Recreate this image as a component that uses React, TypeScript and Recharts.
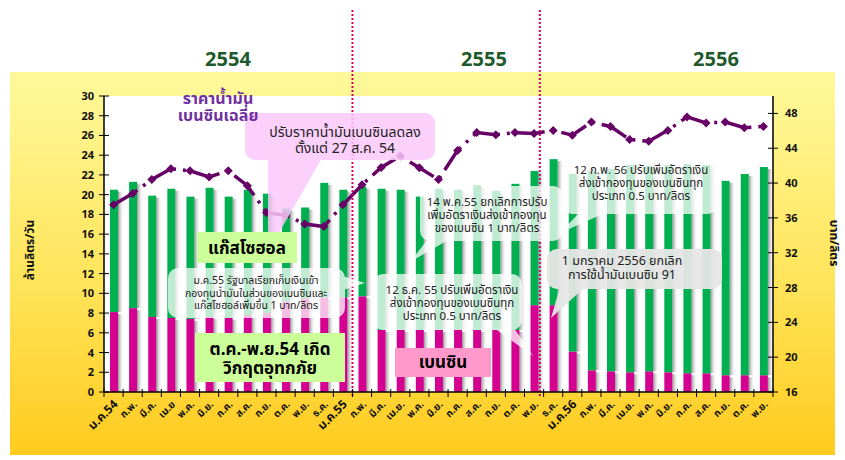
import React from "react";
import {
  ComposedChart,
  Bar,
  Line,
  XAxis,
  YAxis,
  ReferenceLine,
} from "recharts";

const months = [
  "ม.ค.54", "ก.พ.", "มี.ค.", "เม.ย", "พ.ค.", "มิ.ย.", "ก.ค.", "ส.ค.", "ก.ย.", "ต.ค.", "พ.ย.", "ธ.ค.",
  "ม.ค.55", "ก.พ.", "มี.ค.", "เม.ย.", "พ.ค.", "มิ.ย.", "ก.ค.", "ส.ค.", "ก.ย.", "ต.ค.", "พ.ย.", "ธ.ค.",
  "ม.ค.56", "ก.พ.", "มี.ค.", "เม.ย.", "พ.ค.", "มิ.ย.", "ก.ค.", "ส.ค.", "ก.ย.", "ต.ค.", "พ.ย.",
];

// ล้านลิตร/วัน
const benzin = [
  8.1, 8.5, 7.6, 7.5, 7.4, 7.6, 7.5, 7.8, 8.0, 9.2, 9.5, 9.6,
  9.6, 9.7, 6.3, 6.3, 6.3, 6.3, 6.3, 6.3, 6.3, 6.3, 8.8, 8.8,
  4.1, 2.2, 2.1, 2.0, 2.1, 2.0, 1.9, 1.9, 1.7, 1.7, 1.7,
];
const gasohol = [
  12.4, 12.8, 12.3, 13.1, 12.4, 13.1, 12.3, 12.7, 12.1, 9.4, 9.2, 11.6,
  10.9, 11.1, 14.3, 14.2, 13.5, 14.3, 14.2, 14.6, 14.1, 14.8, 13.6, 14.8,
  18.0, 20.2, 20.5, 21.0, 20.8, 21.0, 21.2, 21.1, 19.7, 20.4, 21.1,
];
// บาท/ลิตร
const benzinPrice = [
  37.5, 38.8, 40.4, 41.65, 41.4, 40.7, 41.4, 39.7, 36.6, 36.3, 35.3, 35.0,
  37.5, 39.8, 41.8, 43.1, 41.75, 40.4, 43.75, 45.8, 45.55, 45.8, 45.7, 46.05,
  45.5, 47.0, 46.5, 45.0, 44.8, 46.05, 47.6, 46.9, 47.0, 46.35, 46.5,
];

const leftTicks = [0, 2, 4, 6, 8, 10, 12, 14, 16, 18, 20, 22, 24, 26, 28, 30];
const rightTicks = [16, 20, 24, 28, 32, 36, 40, 44, 48];
const years = ["2554", "2555", "2556"];
// boundaries of the year sections, in month slots
const yearBreaks = [13, 22.8];

const data = months.map((month, i) => ({
  month,
  idx: i,
  benzin: benzin[i],
  gasohol: gasohol[i],
  price: benzinPrice[i],
}));

const FONT = "Tahoma, 'Noto Sans Thai', Loma, 'DejaVu Sans', sans-serif";
const MARGIN = { top: 96, right: 12, bottom: 0, left: 44 };
const AXIS_W = 60;
const X_AXIS_H = 68;
const CHART_W = 845;
const CHART_H = 460;
const PLOT_W = CHART_W - MARGIN.left - MARGIN.right - 2 * AXIS_W;
const PLOT_H = CHART_H - MARGIN.top - MARGIN.bottom - X_AXIS_H;
const SLOT = PLOT_W / months.length;

function ShadowBar(props: any) {
  const { x, y, width, height, fill } = props;
  if (!height || height <= 0) return null;
  return (
    <g>
      <rect x={x + width} y={y + 2} width={6} height={height - 2} fill="url(#barShadow)" />
      <rect x={x} y={y} width={width} height={height} fill={fill} />
    </g>
  );
}

function Diamond(props: any) {
  const { cx, cy, index } = props;
  if (cx == null || cy == null) return null;
  const r = 4.5;
  return (
    <path
      key={`d-${index}`}
      d={`M${cx},${cy - r}L${cx + r},${cy}L${cx},${cy + r}L${cx - r},${cy}Z`}
      fill="#660066"
    />
  );
}

function MonthTick(props: any) {
  const { x, y, payload } = props;
  const label: string = payload.value;
  const big = label.startsWith("ม.ค.");
  const ax = x + 5;
  const ay = y + 5;
  return (
    <g>
      <line x1={x - SLOT / 2} x2={x - SLOT / 2} y1={y - 11} y2={y - 3} stroke="#000" />
      {payload.index === months.length - 1 && (
        <line x1={x + SLOT / 2} x2={x + SLOT / 2} y1={y - 11} y2={y - 3} stroke="#000" />
      )}
      <text
        x={ax}
        y={ay}
        transform={`rotate(-45, ${ax}, ${ay})`}
        textAnchor="end"
        fontSize={big ? 12 : 10}
        fontWeight="bold"
        fontFamily={FONT}
        fill="#111"
      >
        {label}
      </text>
    </g>
  );
}

function LeftTick(props: any) {
  const { x, y, payload } = props;
  const axisX = x + 9;
  return (
    <g>
      <line x1={axisX - 5} x2={axisX + 5} y1={y} y2={y} stroke="#000" />
      <text x={x - 1} y={y + 4} textAnchor="end" fontSize={11} fontWeight="bold" fontFamily={FONT} fill="#111">
        {payload.value}
      </text>
    </g>
  );
}

function RightTick(props: any) {
  const { x, y, payload } = props;
  const axisX = x - 12;
  return (
    <g>
      <line x1={axisX - 5} x2={axisX + 5} y1={y} y2={y} stroke="#000" />
      <text x={x} y={y + 4} textAnchor="start" fontSize={11} fontWeight="bold" fontFamily={FONT} fill="#111">
        {payload.value}
      </text>
    </g>
  );
}

// dotted year divider, running from the top band down to the x axis
function YearDivider(props: any) {
  const { x1, x2, y1, y2 } = props;
  const bottom = Math.max(y1, y2);
  return (
    <line x1={x1} x2={x2} y1={10} y2={bottom + 4} stroke="#D4006A" strokeWidth={2} strokeDasharray="2 2" />
  );
}

type CalloutProps = {
  x: number;
  y: number;
  w: number;
  h: number;
  tail?: number[][];
  fill: string;
  opacity: number;
  rx?: number;
  lines: string[];
  cx: number;
  y0: number;
  lh: number;
  size: number;
  bold?: boolean;
  color?: string;
};

function Callout(p: CalloutProps) {
  return (
    <g>
      <g opacity={p.opacity}>
        <rect x={p.x} y={p.y} width={p.w} height={p.h} rx={p.rx ?? 0} fill={p.fill} />
        {p.tail && <polygon points={p.tail.map((q) => q.join(",")).join(" ")} fill={p.fill} />}
      </g>
      <text
        textAnchor="middle"
        fontFamily={FONT}
        fontSize={p.size}
        fontWeight={p.bold ? "bold" : "normal"}
        fill={p.color ?? "#222"}
      >
        {p.lines.map((l, i) => (
          <tspan key={i} x={p.cx} y={p.y0 + i * p.lh}>
            {l}
          </tspan>
        ))}
      </text>
    </g>
  );
}

export default function App() {
  return (
    <div style={{ position: "absolute", left: 0, top: 0, width: CHART_W, height: CHART_H, background: "#fff" }}>
      <div
        style={{
          position: "absolute",
          left: 10,
          top: 72,
          width: 825,
          height: 383,
          background: "linear-gradient(#FFF99C, #FFE45A 55%, #FFCB1E)",
        }}
      />
      {/* white plot area */}
      <div
        style={{
          position: "absolute",
          left: MARGIN.left + AXIS_W,
          top: MARGIN.top,
          width: PLOT_W,
          height: PLOT_H,
          background: "#fff",
        }}
      />
      <div style={{ position: "absolute", left: 0, top: 0 }}>
        <ComposedChart width={CHART_W} height={CHART_H} data={data} margin={MARGIN} barSize={8}>
          <defs>
            <linearGradient id="barShadow" x1="0" y1="0" x2="1" y2="0">
              <stop offset="0%" stopColor="#7f7f7f" stopOpacity={0.85} />
              <stop offset="100%" stopColor="#ffffff" stopOpacity={0} />
            </linearGradient>
          </defs>
          <XAxis
            dataKey="month"
            height={X_AXIS_H}
            interval={0}
            tick={<MonthTick />}
            tickLine={false}
            axisLine={{ stroke: "#000", strokeWidth: 1.5 }}
          />
          <XAxis xAxisId="pos" type="number" dataKey="idx" domain={[0, months.length]} hide />
          <YAxis
            yAxisId="left"
            domain={[0, 30]}
            ticks={leftTicks}
            interval={0}
            width={AXIS_W}
            tickSize={5}
            tickMargin={4}
            tickLine={false}
            tick={<LeftTick />}
            axisLine={{ stroke: "#000", strokeWidth: 1.5 }}
          />
          <YAxis
            yAxisId="right"
            orientation="right"
            domain={[16, 50]}
            ticks={rightTicks}
            interval={0}
            width={AXIS_W}
            tickSize={5}
            tickMargin={7}
            tickLine={false}
            tick={<RightTick />}
            axisLine={{ stroke: "#000", strokeWidth: 1.5 }}
          />
          <Bar yAxisId="left" dataKey="benzin" stackId="a" fill="#D4008F" shape={ShadowBar} isAnimationActive={false} />
          <Bar yAxisId="left" dataKey="gasohol" stackId="a" fill="#00B050" shape={ShadowBar} isAnimationActive={false} />
          <Line
            yAxisId="right"
            dataKey="price"
            stroke="#660066"
            strokeWidth={3.5}
            strokeDasharray="28 7 3 7"
            dot={Diamond}
            activeDot={false}
            isAnimationActive={false}
          />
          {yearBreaks.map((b) => (
            <ReferenceLine key={b} xAxisId="pos" yAxisId="left" x={b} shape={YearDivider} />
          ))}
        </ComposedChart>
      </div>
      <svg width={CHART_W} height={CHART_H} style={{ position: "absolute", left: 0, top: 0, pointerEvents: "none" }}>
        {years.map((yr, i) => (
          <text
            key={yr}
            x={[228, 484, 716][i]}
            y={66}
            textAnchor="middle"
            fontFamily={FONT}
            fontSize={20}
            fontWeight="bold"
            fill="#1E5A2C"
          >
            {yr}
          </text>
        ))}
        <text
          transform="translate(34, 250) rotate(-90)"
          textAnchor="middle"
          fontFamily={FONT}
          fontSize={12}
          fontWeight="bold"
          fill="#111"
        >
          ล้านลิตร/วัน
        </text>
        <text
          transform="translate(830, 243) rotate(90)"
          textAnchor="middle"
          fontFamily={FONT}
          fontSize={12}
          fontWeight="bold"
          fill="#111"
        >
          บาท/ลิตร
        </text>
        <Callout
          x={245} y={113} w={190} h={47} rx={10}
          tail={[[268, 158], [322, 158], [268, 252]]}
          fill="#FBC8FB" opacity={0.85}
          lines={["ปรับราคาน้ำมันเบนซินลดลง", "ตั้งแต่ 27 ส.ค. 54"]}
          cx={345} y0={137} lh={16} size={14}
        />
        <text textAnchor="middle" fontFamily={FONT} fontSize={16} fontWeight="bold" fill="#7030A0">
          <tspan x={218} y={104}>ราคาน้ำมัน</tspan>
          <tspan x={218} y={121}>เบนซินเฉลี่ย</tspan>
        </text>
        <Callout
          x={420} y={186} w={143} h={55} rx={10}
          tail={[[428, 239], [450, 239], [410, 262]]}
          fill="#ffffff" opacity={0.75}
          lines={["14 พ.ค.55 ยกเลิกการปรับ", "เพิ่มอัตราเงินส่งเข้ากองทุน", "ของเบนซิน 1 บาท/ลิตร"]}
          cx={487} y0={206} lh={13} size={11.5}
        />
        <Callout
          x={562} y={160} w={156} h={54} rx={10}
          tail={[[580, 212], [607, 212], [560, 233]]}
          fill="#ffffff" opacity={0.75}
          lines={["12 ก.พ. 56 ปรับเพิ่มอัตราเงิน", "ส่งเข้ากองทุนของเบนซินทุก", "ประเภท  0.5 บาท/ลิตร"]}
          cx={641} y0={174} lh={13} size={11.5}
        />
        <Callout
          x={373} y={274} w={149} h={56} rx={10}
          tail={[[494, 328], [514, 328], [533, 356]]}
          fill="#ffffff" opacity={0.75}
          lines={["12 ธ.ค. 55 ปรับเพิ่มอัตราเงิน", "ส่งเข้ากองทุนของเบนซินทุก", "ประเภท  0.5 บาท/ลิตร"]}
          cx={452} y0={294} lh={13} size={11.5}
        />
        <Callout
          x={547} y={249} w={175} h={40} rx={10}
          tail={[[560, 287], [585, 287], [551, 318]]}
          fill="#E6E6E6" opacity={0.95}
          lines={["1 มกราคม 2556 ยกเลิก", "การใช้น้ำมันเบนซิน 91"]}
          cx={622} y0={265} lh={14} size={12.5}
        />
        <Callout
          x={168} y={268} w={177} h={50} rx={10}
          tail={[[343, 276], [343, 290], [365, 283]]}
          fill="#ffffff" opacity={0.75}
          lines={["ม.ค.55 รัฐบาลเรียกเก็บเงินเข้า", "กองทุนน้ำมันในส่วนของเบนซินและ", "แก๊สโซฮอล์เพิ่มขึ้น 1 บาท/ลิตร"]}
          cx={256} y0={284} lh={12.5} size={10.5}
        />
        <Callout
          x={197} y={232} w={100} h={31}
          fill="#CCFF99" opacity={1}
          lines={["แก๊สโซฮอล"]}
          cx={247} y0={254} lh={18} size={17} bold color="#000"
        />
        <Callout
          x={195} y={333} w={150} h={49}
          fill="#CCFF99" opacity={1}
          lines={["ต.ค.-พ.ย.54 เกิด", "วิกฤตอุทกภัย"]}
          cx={270} y0={355} lh={19} size={17} bold color="#000"
        />
        <Callout
          x={395} y={348} w={96} h={29}
          fill="#FF99CC" opacity={1}
          lines={["เบนซิน"]}
          cx={443} y0={368} lh={18} size={17} bold color="#000"
        />
      </svg>
    </div>
  );
}
